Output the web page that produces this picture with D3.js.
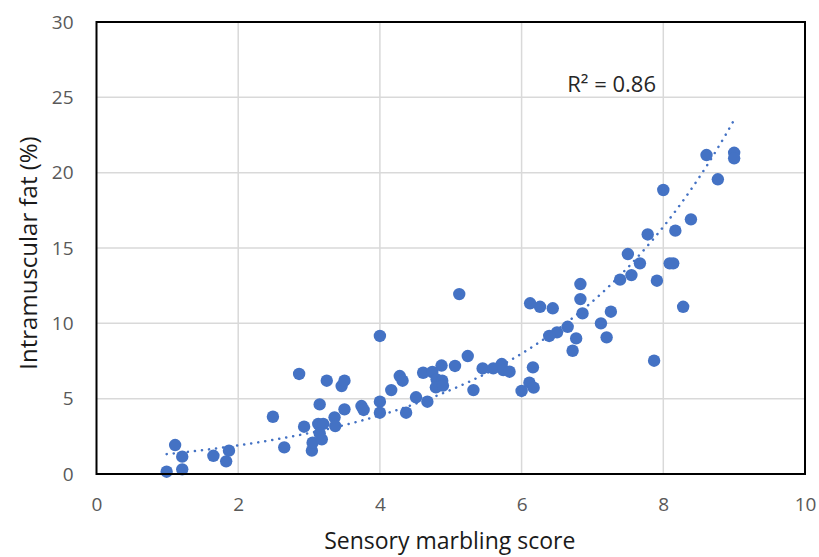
<!DOCTYPE html>
<html>
<head>
<meta charset="utf-8">
<script src="https://cdn.jsdelivr.net/npm/d3@7"></script>
<style>
  html, body { margin: 0; padding: 0; background: #ffffff; }
  svg { display: block; font-family: "Open Sans", "Noto Sans", sans-serif; }
</style>
</head>
<body>
<svg id="chart" width="819" height="557"></svg>
<script>
// Sensory marbling score (x) vs. intramuscular fat % (y), one entry per sample
const marblingScore = [
  0.99, 1.11, 1.21, 1.21, 1.65, 1.83, 1.87, 2.49, 2.65, 2.86, 2.93, 3.04, 3.05, 3.15, 3.13, 3.20, 3.18, 3.15,
  3.25, 3.36, 3.37, 3.46, 3.50, 3.50,
  3.74, 3.77, 4.00, 4.00, 4.00, 4.16, 4.28, 4.32, 4.37, 4.51, 4.61, 4.67, 4.74, 4.87, 4.80, 4.88, 4.79, 4.89,
  5.06, 5.12, 5.24, 5.32, 5.45, 5.60, 5.72, 5.74, 5.83, 6.00, 6.11, 6.17, 6.16,
  6.12, 6.26, 6.44, 6.65, 6.50, 6.39, 6.77, 6.72, 6.83, 6.83, 6.86, 7.12, 7.26, 7.20, 7.39, 7.55, 7.50, 7.67,
  7.78, 7.91, 8.00, 8.09, 8.14, 8.17, 8.39, 8.28, 7.87, 8.61, 8.77, 9.00, 9.00
];
const intramuscularFat = [
  0.15, 1.92, 1.15, 0.31, 1.21, 0.84, 1.55, 3.80, 1.77, 6.64, 3.14, 1.55, 2.08, 4.62, 3.32, 3.32, 2.30, 2.70,
  6.19, 3.76, 3.18, 5.84, 6.19, 4.29,
  4.51, 4.25, 9.16, 4.80, 4.07, 5.57, 6.50, 6.19, 4.07, 5.09, 6.72, 4.80, 6.77, 7.20, 6.28, 6.19, 5.75, 5.87,
  7.17, 11.94, 7.83, 5.57, 7.01, 7.01, 7.30, 6.90, 6.79, 5.51, 6.06, 5.73, 7.08,
  11.33, 11.10, 11.00, 9.77, 9.40, 9.16, 9.00, 8.18, 12.61, 11.61, 10.66, 10.00, 10.77, 9.07, 12.90, 13.20, 14.60, 13.98,
  15.90, 12.83, 18.85, 13.98, 13.98, 16.15, 16.90, 11.10, 7.52, 21.17, 19.56, 21.32, 20.95
];

const xTicks = [0, 2, 4, 6, 8, 10];
const yTicks = [0, 5, 10, 15, 20, 25, 30];
const rSquaredLabel = "R² = 0.86";
const xTitle = "Sensory marbling score";
const yTitle = "Intramuscular fat (%)";

const points = marblingScore.map((x, i) => ({ x, y: intramuscularFat[i] }));

const svg = d3.select("#chart");
const plot = { left: 96.5, right: 805, top: 22, bottom: 474 };

const x = d3.scaleLinear().domain([0, 10]).range([plot.left, plot.right]);
const y = d3.scaleLinear().domain([0, 30]).range([plot.bottom, plot.top]);

const blue = "#4472C4";

// gridlines
const grid = svg.append("g");
grid.selectAll("line.h").data(yTicks.slice(1, -1)).join("line")
  .attr("x1", plot.left).attr("x2", plot.right)
  .attr("y1", d => y(d)).attr("y2", d => y(d))
  .attr("stroke", "#d9d9d9").attr("stroke-width", 1.5);
grid.selectAll("line.v").data(xTicks.slice(1, -1)).join("line")
  .attr("y1", plot.top).attr("y2", plot.bottom)
  .attr("x1", d => x(d)).attr("x2", d => x(d))
  .attr("stroke", "#d9d9d9").attr("stroke-width", 1.5);

// axes (labels only; the frame is drawn separately)
const xAxis = svg.append("g")
  .attr("transform", `translate(0,${plot.bottom})`)
  .call(d3.axisBottom(x).tickValues(xTicks).tickSize(0).tickPadding(24).tickFormat(d3.format("d")));
const yAxis = svg.append("g")
  .attr("transform", `translate(${plot.left},0)`)
  .call(d3.axisLeft(y).tickValues(yTicks).tickSize(0).tickPadding(23).tickFormat(d3.format("d")));
[xAxis, yAxis].forEach(a => {
  a.select(".domain").remove();
  a.selectAll("text").attr("fill", "#595959").style("font-size", "19px")
    .style("font-family", "'Open Sans', 'Noto Sans', sans-serif");
});

// exponential trendline fitted on ln(y)
const lx = points.map(p => p.x), ly = points.map(p => Math.log(p.y));
const mx = d3.mean(lx), my = d3.mean(ly);
const b = d3.sum(lx.map((v, i) => (v - mx) * (ly[i] - my))) / d3.sum(lx.map(v => (v - mx) ** 2));
const lnA = my - b * mx;
const [xMin, xMax] = d3.extent(marblingScore);
const trend = d3.range(0, 201).map(i => {
  const xv = xMin + (xMax - xMin) * i / 200;
  return { x: xv, y: Math.exp(lnA + b * xv) };
});
svg.append("path")
  .datum(trend)
  .attr("fill", "none")
  .attr("stroke", blue)
  .attr("stroke-width", 2.5)
  .attr("stroke-linecap", "round")
  .attr("stroke-dasharray", "0.1 7")
  .attr("d", d3.line().x(d => x(d.x)).y(d => y(d.y)));

// sample markers
svg.append("g").selectAll("circle").data(points).join("circle")
  .attr("cx", d => x(d.x)).attr("cy", d => y(d.y))
  .attr("r", 6.2)
  .attr("fill", blue);

// plot frame
svg.append("rect")
  .attr("x", plot.left).attr("y", plot.top)
  .attr("width", plot.right - plot.left).attr("height", plot.bottom - plot.top)
  .attr("fill", "none").attr("stroke", "#000").attr("stroke-width", 2);

// R² annotation
svg.append("text")
  .attr("x", 656).attr("y", 92)
  .attr("text-anchor", "end")
  .attr("fill", "#262626")
  .style("font-size", "22px")
  .text(rSquaredLabel);

// axis titles
svg.append("text")
  .attr("x", (plot.left + plot.right) / 2 - 1).attr("y", 549)
  .attr("text-anchor", "middle")
  .attr("fill", "#1a1a1a")
  .style("font-size", "23px")
  .text(xTitle);
svg.append("text")
  .attr("transform", `translate(37,${(plot.top + plot.bottom) / 2 + 5}) rotate(-90)`)
  .attr("text-anchor", "middle")
  .attr("fill", "#1a1a1a")
  .style("font-size", "24px")
  .text(yTitle);
</script>
</body>
</html>
